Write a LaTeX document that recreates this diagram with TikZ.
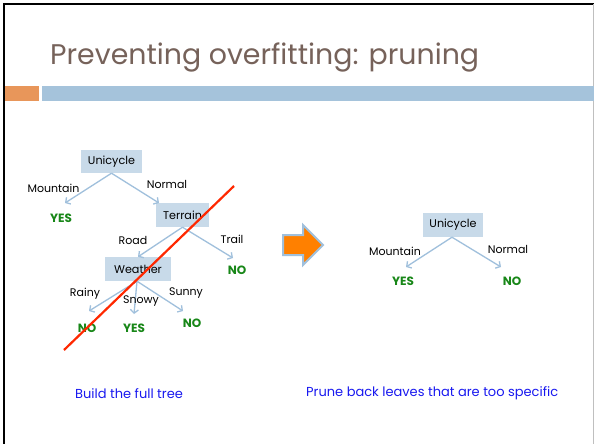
\documentclass[tikz,border=0pt]{standalone}
\usepackage{fontspec}
\setmainfont{Poppins}
\usetikzlibrary{arrows.meta}
\definecolor{titlebrown}{RGB}{118,98,90}
\definecolor{barorange}{RGB}{232,150,90}
\definecolor{barblue}{RGB}{165,195,219}
\definecolor{boxblue}{RGB}{200,218,233}
\definecolor{edgeblue}{RGB}{160,192,220}
\definecolor{leafgreen}{RGB}{24,135,24}
\definecolor{notered}{RGB}{255,40,0}
\definecolor{capblue}{RGB}{25,25,240}
\definecolor{arroworange}{RGB}{255,128,0}
\tikzset{
  testbox/.style={fill=boxblue, inner sep=0pt, font=\fontsize{11.2}{13}\selectfont},
  branch/.style={font=\fontsize{11}{13}\selectfont, inner sep=0pt},
  leaf/.style={font=\fontsize{12}{14}\selectfont\bfseries, text=leafgreen, inner sep=0pt},
  edge/.style={draw=edgeblue, line width=1.3pt, -{Straight Barb[length=3.5pt,width=8pt]}},
  caption/.style={font=\fontsize{13}{15}\selectfont, text=capblue, inner sep=0pt, anchor=west}
}
\begin{document}
\begin{tikzpicture}[x=1pt,y=-1pt]
\useasboundingbox (0,0) rectangle (594,444);
\fill[white] (0,0) rectangle (594,444);
% slide frame
\draw[black, line width=1.8pt] (4.2,444) -- (4.2,4.2) -- (594,4.2);
\draw[black!25, line width=1pt] (593,4) -- (593,444);
% title and header bars
\node[anchor=base west, text=titlebrown, inner sep=0pt, font=\fontsize{28.4}{32}\selectfont] (title) at (50,65) {Preventing overfitting: pruning};
\fill[barorange] (5,86) rectangle (39,101);
\fill[barblue] (42,86) rectangle (594,101);

% full tree
\node[testbox, minimum width=61pt, minimum height=23pt] (uni) at (111.5,161.5) {Unicycle};
\node[testbox, minimum width=53pt, minimum height=24pt] (terr) at (182.5,215) {Terrain};
\node[testbox, minimum width=66pt, minimum height=24pt] (wea) at (138,269) {Weather};
\coordinate (t1) at (65,203);
\coordinate (t2) at (159,203);
\coordinate (t3) at (233,258);
\coordinate (t4) at (89,311);
\coordinate (t5) at (134,314);
\coordinate (t6) at (183,311);
\draw[edge] (uni.south) -- (t1);
\draw[edge] (uni.south) -- (t2);
\draw[edge] (terr.south) -- (wea.north);
\draw[edge] (terr.south) -- (t3);
\draw[edge] ([xshift=-1pt]wea.south) -- (t4);
\draw[edge] ([xshift=-1pt]wea.south) -- (t5);
\draw[edge] ([xshift=-1pt]wea.south) -- (t6);
\node[branch] (lmount) at (53.5,188) {Mountain};
\node[branch] (lnorm) at (167,184) {Normal};
\node[branch] (lroad) at (133,240) {Road};
\node[branch] (ltrail) at (232,239) {Trail};
\node[branch] (lrainy) at (85,294) {Rainy};
\node[branch] (lsnowy) at (141,301) {Snowy};
\node[branch] (lsunny) at (186,293) {Sunny};
\node[leaf] (yes1) at (61,218) {YES};
\node[leaf] (no1) at (237,270) {NO};
\node[leaf] (no2) at (87,328) {NO};
\node[leaf] (yes2) at (134,328) {YES};
\node[leaf] (no3) at (192,323) {NO};
% strike-through of the pruned subtree
\coordinate (cutA) at (64,350);
\coordinate (cutB) at (234,186);
\draw[notered, line width=2.2pt] (cutA) -- (cutB);

% block arrow between the two trees
\filldraw[fill=arroworange, draw=edgeblue, line width=2pt, line join=miter]
  (283,235) -- (303,235) -- (303,225) -- (323,245) -- (303,265) -- (303,255) -- (283,255) -- cycle;

% pruned tree
\node[testbox, minimum width=60pt, minimum height=24pt] (uniP) at (453,225) {Unicycle};
\coordinate (p1) at (406,267);
\coordinate (p2) at (501,267);
\draw[edge] ([xshift=-1pt]uniP.south) -- (p1);
\draw[edge] ([xshift=-1pt]uniP.south) -- (p2);
\node[branch] (rmount) at (395,251) {Mountain};
\node[branch] (rnorm) at (508,249) {Normal};
\node[leaf] (yes3) at (403,281) {YES};
\node[leaf] (no4) at (512,281) {NO};

% captions
\node[caption] (cap1) at (75,394) {Build the full tree};
\node[caption] (cap2) at (306,393) {Prune back leaves that are too specific};
\end{tikzpicture}
\end{document}
